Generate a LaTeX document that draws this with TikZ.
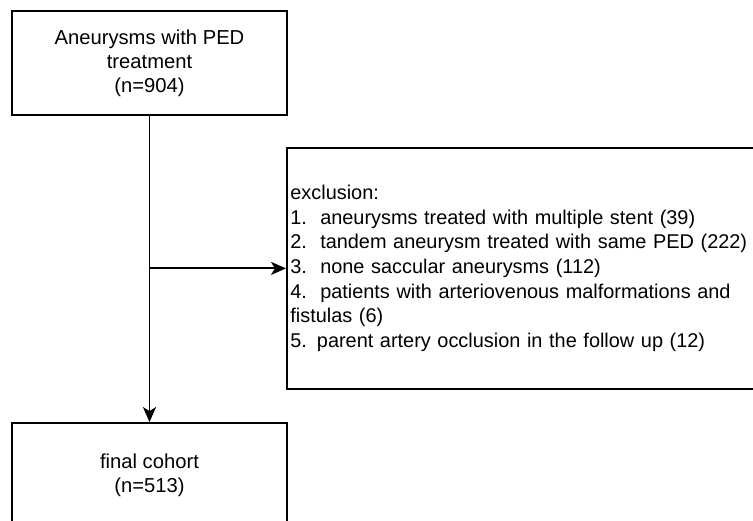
\documentclass[tikz,border=0pt]{standalone}
\usepackage{fontspec}
\setmainfont{Liberation Sans}
\usetikzlibrary{arrows.meta}
\begin{document}
\begin{tikzpicture}[x=1pt,y=-1pt,
  box/.style={draw, line width=1.8pt, inner sep=0pt, align=center,
    font=\fontsize{20.2}{24}\selectfont},
  arr/.style={line width=1.8pt, -{Stealth[length=15pt,width=13pt,inset=4pt]}}]
\clip (0,0) rectangle (753,521);
\fill[white] (0,0) rectangle (753,521);
\node[box, minimum width=275pt, minimum height=104pt] (top) at (149.5,63)
  {Aneurysms with PED\\treatment\\(n=904)};
\node[box, minimum width=275pt, minimum height=104pt] (final) at (149.5,475)
  {final cohort\\(n=513)};
\node[box, anchor=north west, align=left, text width=520pt, inner xsep=3.5pt,
  minimum height=241pt, font=\fontsize{19.9}{24.6}\selectfont] (ex) at (286,147)
  {exclusion:\\
   1.\ \ aneurysms treated with multiple stent (39)\\
   2.\ \ tandem aneurysm treated with same PED (222)\\
   3.\ \ none saccular aneurysms (112)\\
   4.\ \ patients with arteriovenous malformations and\\
   fistulas (6)\\
   5. parent artery occlusion in the follow up (12)};
\draw[arr] (top.south) -- (final.north);
\coordinate (branch) at (top.south |- ex.west);
\draw[arr] (branch) -- (ex.west);
\end{tikzpicture}
\end{document}
